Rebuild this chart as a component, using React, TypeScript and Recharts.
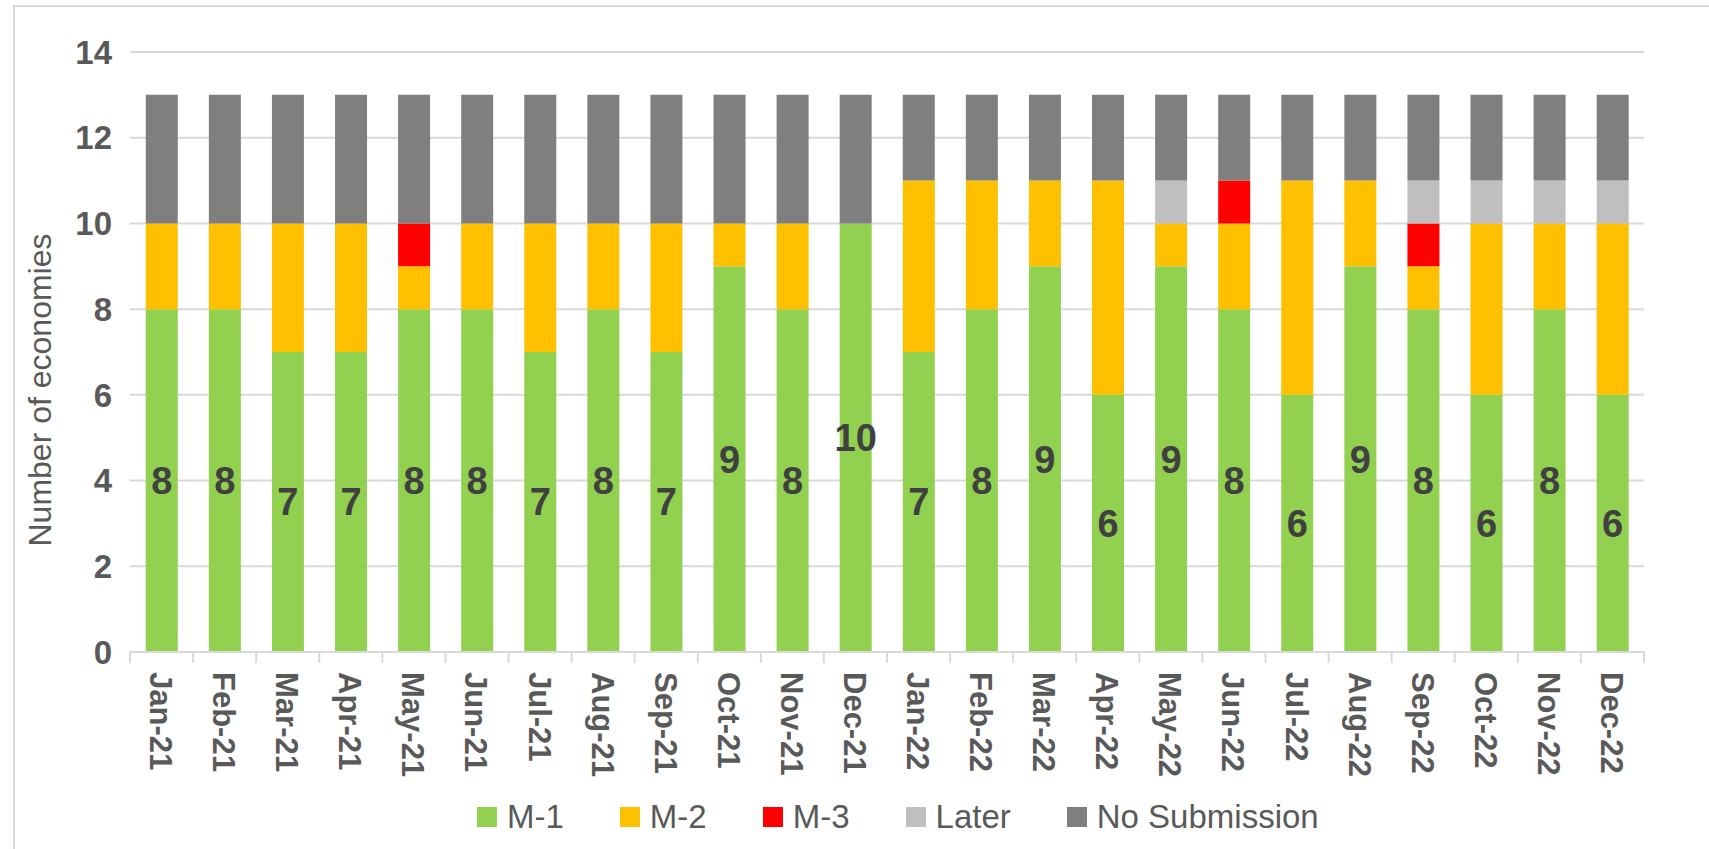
import React from 'react';
import { BarChart, Bar, XAxis, YAxis, CartesianGrid, Legend, LabelList } from 'recharts';

const categories = ['Jan-21','Feb-21','Mar-21','Apr-21','May-21','Jun-21','Jul-21','Aug-21','Sep-21','Oct-21','Nov-21','Dec-21','Jan-22','Feb-22','Mar-22','Apr-22','May-22','Jun-22','Jul-22','Aug-22','Sep-22','Oct-22','Nov-22','Dec-22'];
const m1 = [8,8,7,7,8,8,7,8,7,9,8,10,7,8,9,6,9,8,6,9,8,6,8,6];
const m2 = [2,2,3,3,1,2,3,2,3,1,2,0,4,3,2,5,1,2,5,2,1,4,2,4];
const m3 = [0,0,0,0,1,0,0,0,0,0,0,0,0,0,0,0,0,1,0,0,1,0,0,0];
const later = [0,0,0,0,0,0,0,0,0,0,0,0,0,0,0,0,1,0,0,0,1,1,1,1];
const noSub = [3,3,3,3,3,3,3,3,3,3,3,3,2,2,2,2,2,2,2,2,2,2,2,2];
const yTicks = [0,2,4,6,8,10,12,14];

const series = [
  { key: 'm1', name: 'M-1', color: '#92D050' },
  { key: 'm2', name: 'M-2', color: '#FFC000' },
  { key: 'm3', name: 'M-3', color: '#FF0000' },
  { key: 'later', name: 'Later', color: '#BFBFBF' },
  { key: 'noSub', name: 'No Submission', color: '#7F7F7F' },
];

const data = categories.map((c, i) => ({
  cat: c, m1: m1[i], m2: m2[i], m3: m3[i], later: later[i], noSub: noSub[i],
}));

const AXIS_COLOR = '#D9D9D9';
const TEXT_COLOR = '#595959';
const FONT = '"Liberation Sans", Arial, sans-serif';

const XTick = (props: any) => {
  const { x, y, payload, index, visibleTicksCount } = props;
  const half = payload && typeof payload.offset === 'number' && payload.offset > 0 ? payload.offset : (1514 / 24) / 2;
  const isLast = index === (visibleTicksCount ? visibleTicksCount - 1 : categories.length - 1);
  return (
    <g>
      <line x1={x - half} x2={x - half} y1={y} y2={y + 11} stroke={AXIS_COLOR} strokeWidth={2} />
      {isLast && <line x1={x + half} x2={x + half} y1={y} y2={y + 11} stroke={AXIS_COLOR} strokeWidth={2} />}
      <text
        transform={`translate(${x - 1},${y + 20}) rotate(90)`}
        textAnchor="start"
        dominantBaseline="central"
        fontFamily={FONT}
        fontWeight="bold"
        fontSize={31}
        fill={TEXT_COLOR}
      >
        {payload.value}
      </text>
    </g>
  );
};

const LegendContent = () => (
  <div style={{ display: 'flex', alignItems: 'center', paddingLeft: 477, height: 44, fontFamily: FONT, fontSize: 33, color: TEXT_COLOR }}>
    {series.map((s) => (
      <div key={s.key} style={{ display: 'flex', alignItems: 'center', marginRight: 56 }}>
        <div style={{ width: 20, height: 20, background: s.color, marginRight: 10 }} />
        <span style={{ lineHeight: '44px' }}>{s.name}</span>
      </div>
    ))}
  </div>
);

const YLabel = () => (
  <text
    x={40}
    y={390}
    transform="rotate(-90 40 390)"
    textAnchor="middle"
    dominantBaseline="central"
    fontFamily={FONT}
    fontSize={32}
    fill={TEXT_COLOR}
  >
    Number of economies
  </text>
);

export default function App() {
  return (
    <div style={{ position: 'absolute', left: 0, top: 0, width: 1709, height: 849, overflow: 'hidden', background: '#fff' }}>
      <div style={{ position: 'absolute', left: 13, top: 5, width: 1720, height: 900, border: `2px solid ${AXIS_COLOR}` }} />
      <div style={{ position: 'absolute', left: 0, top: 0 }}>
        <BarChart
          width={1709}
          height={849}
          data={data}
          margin={{ top: 52, right: 65, left: 0, bottom: 0 }}
          barCategoryGap="25%"
        >
          <CartesianGrid vertical={false} stroke={AXIS_COLOR} strokeWidth={2} />
          <XAxis
            dataKey="cat"
            interval={0}
            height={153}
            tickLine={false}
            tickSize={0}
            tickMargin={0}
            axisLine={{ stroke: AXIS_COLOR, strokeWidth: 2 }}
            tick={<XTick />}
          />
          <YAxis
            width={130}
            domain={[0, 14]}
            ticks={yTicks}
            interval={0}
            axisLine={false}
            tickLine={false}
            tickMargin={12}
            tick={{ fontFamily: FONT, fontWeight: 'bold', fontSize: 33, fill: TEXT_COLOR }}
            label={<YLabel />}
          />
          <Legend
            verticalAlign="bottom"
            content={<LegendContent />}
            wrapperStyle={{ left: 0, width: 1709, height: 44, bottom: 10 }}
          />
          {series.map((s) => (
            <Bar key={s.key} dataKey={s.key} name={s.name} stackId="a" fill={s.color} isAnimationActive={false}>
              {s.key === 'm1' && (
                <LabelList
                  dataKey="m1"
                  position="center"
                  fill="#404040"
                  fontFamily={FONT}
                  fontWeight="bold"
                  fontSize={38}
                />
              )}
            </Bar>
          ))}
        </BarChart>
      </div>
    </div>
  );
}
